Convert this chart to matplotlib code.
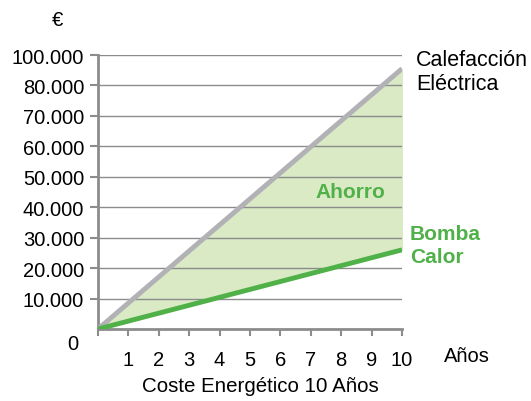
import matplotlib.pyplot as plt

anios = [0, 10]
calefaccion = [0, 85500]
bomba = [0, 26000]

y_ticks = [10000, 20000, 30000, 40000, 50000, 60000, 70000, 80000, 90000]
y_labels = ['10.000', '20.000', '30.000', '40.000', '50.000', '60.000', '70.000', '80.000', '100.000']
x_ticks = [0, 1, 2, 3, 4, 5, 6, 7, 8, 9, 10]
x_labels = ['', '1', '2', '3', '4', '5', '6', '7', '8', '9', '10']

verde = '#4fb148'
gris = '#b1b1b6'
eje = '#8c8c8c'

plt.rcParams['font.family'] = ['Liberation Sans', 'DejaVu Sans']

fig = plt.figure(figsize=(5.31, 4.02), dpi=100)
ax = fig.add_axes([98 / 531, 72 / 402, 304 / 531, 274 / 402])

ax.fill_between(anios, bomba, calefaccion, color='#d9eac5', zorder=1)
for y in y_ticks:
    ax.axhline(y, color=eje, linewidth=1, zorder=2)
ax.plot(anios, calefaccion, color=gris, linewidth=3.5, solid_capstyle='butt', zorder=3)
ax.plot(anios, bomba, color=verde, linewidth=3.5, solid_capstyle='butt', zorder=4)

ax.set_xlim(0, 10)
ax.set_ylim(0, 90000)
ax.set_xticks(x_ticks)
ax.set_xticklabels(x_labels, fontsize=14.5)
ax.set_yticks(y_ticks)
ax.set_yticklabels(y_labels, fontsize=14.5)
ax.tick_params(axis='x', direction='out', length=5, width=1.5, color=eje, pad=10)
ax.tick_params(axis='y', direction='out', length=6, width=1.5, color=eje, pad=4)

for s in ['top', 'right']:
    ax.spines[s].set_visible(False)
ax.spines['left'].set_color(eje)
ax.spines['left'].set_linewidth(2)
ax.spines['bottom'].set_color(eje)
ax.spines['bottom'].set_linewidth(2)

ax.annotate('0', xy=(0, 0), xytext=(-25, -15), textcoords='offset pixels',
            ha='center', va='center', fontsize=14.5)
ax.text(57 / 531, 1 - 20 / 402, '€', transform=fig.transFigure, ha='center', va='center', fontsize=14.5)
ax.text(467 / 531, 1 - 357 / 402, 'Años', transform=fig.transFigure, ha='center', va='center', fontsize=14.5)
ax.text(416 / 531, 1 - 60 / 402, 'Calefacción', transform=fig.transFigure, ha='left', va='center', fontsize=15.5)
ax.text(416 / 531, 1 - 85 / 402, 'Eléctrica', transform=fig.transFigure, ha='left', va='center', fontsize=15.5)
ax.text(350 / 531, 1 - 192 / 402, 'Ahorro', transform=fig.transFigure, ha='center', va='center',
        fontsize=15, fontweight='bold', color=verde)
ax.text(410 / 531, 1 - 235 / 402, 'Bomba', transform=fig.transFigure, ha='left', va='center',
        fontsize=15, fontweight='bold', color=verde)
ax.text(410 / 531, 1 - 258 / 402, 'Calor', transform=fig.transFigure, ha='left', va='center',
        fontsize=15, fontweight='bold', color=verde)
fig.text(260 / 531, 1 - 387 / 402, 'Coste Energético 10 Años', ha='center', va='center',
         fontsize=14.8, family=['Liberation Sans Narrow', 'Liberation Sans', 'DejaVu Sans'])

fig.savefig('out.png', dpi=100)
